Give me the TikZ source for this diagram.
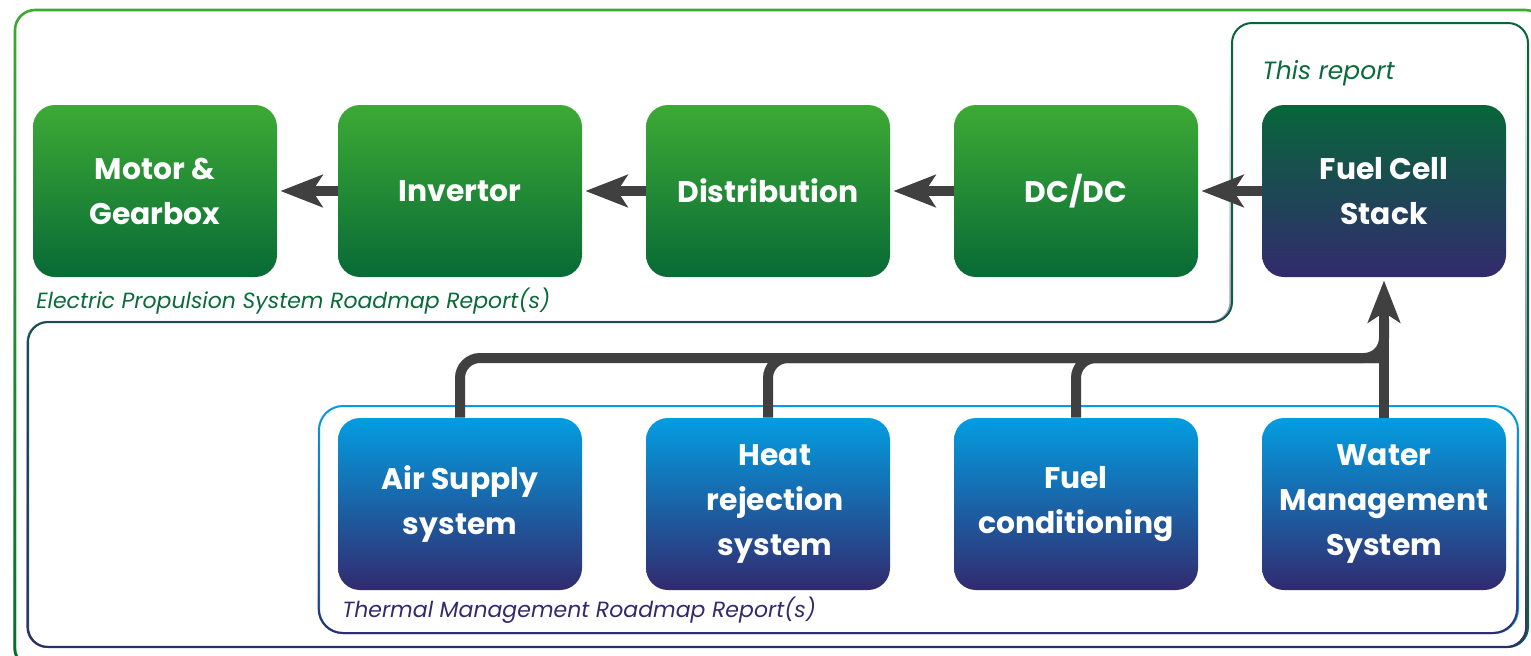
\documentclass[tikz,border=0pt]{standalone}
\usepackage{fontspec}
\setmainfont{Poppins}
\usetikzlibrary{arrows.meta,fadings,calc}

\definecolor{gtop}{HTML}{3DAA35}
\definecolor{gbot}{HTML}{086A36}
\definecolor{ftop}{HTML}{08663A}
\definecolor{navy}{HTML}{322A6E}
\definecolor{btop}{HTML}{039DE1}
\definecolor{darkgreen}{HTML}{0B6A3A}
\definecolor{arrowgrey}{HTML}{404040}

\tikzfading[name=upfade, top color=transparent!100, bottom color=transparent!0]

\tikzset{
  box/.style={rounded corners=11pt, minimum width=122pt, minimum height=86pt,
    inner sep=0pt, align=center, text=white,
    font=\fontsize{14.9}{22.5}\selectfont\bfseries},
  greenbox/.style={box, top color=gtop, bottom color=gbot},
  stackbox/.style={box, top color=ftop, bottom color=navy},
  bluebox/.style={box, top color=btop, bottom color=navy},
  flow/.style={draw=arrowgrey, line width=5pt,
    -{Stealth[length=21pt, width=16pt, inset=5pt]}, shorten >=1.5pt},
  busline/.style={draw=arrowgrey, line width=5pt, rounded corners=10pt},
  caption/.style={anchor=west, inner sep=0pt, font=\fontsize{11}{13}\selectfont\itshape}
}

\begin{document}
\begin{tikzpicture}[x=0.5pt, y=-0.5pt]
\useasboundingbox (0,0) rectangle (1531,655);

% outer frame
\draw[gtop, line width=1.3pt, rounded corners=10pt] (15,10) rectangle (1545,668);
\draw[gbot, line width=1.3pt, rounded corners=10pt, path fading=upfade] (15,10) rectangle (1545,668);

% frame around this report and the systems below it
\draw[ftop, line width=1pt, rounded corners=10pt]
  (28,647) -- (28,322) -- (1232,322) -- (1232,23) -- (1528,23) -- (1528,647) -- cycle;
\draw[navy, line width=1pt, rounded corners=10pt, path fading=upfade]
  (28,647) -- (28,322) -- (1232,322) -- (1232,23) -- (1528,23) -- (1528,647) -- cycle;

% thermal management frame
\draw[btop, line width=1pt, rounded corners=12pt] (319,406) rectangle (1518,633);
\draw[navy, line width=1pt, rounded corners=12pt, path fading=upfade] (319,406) rectangle (1518,633);

% top row
\node[greenbox] (motor) at (155,191) {Motor \&\\Gearbox};
\node[greenbox] (inv)   at (460,191) {Invertor};
\node[greenbox] (dist)  at (768,191) {Distribution};
\node[greenbox] (dcdc)  at (1076,191) {DC/DC};
\node[stackbox] (fc)    at (1384,191) {Fuel Cell\\Stack};

% bottom row
\node[bluebox] (air)   at (460,504) {Air Supply\\system};
\node[bluebox] (heat)  at (768,504) {\hspace*{7pt}Heat\\\hspace*{7pt}rejection\\\hspace*{7pt}system};
\node[bluebox] (fuel)  at (1076,504) {Fuel\\conditioning};
\node[bluebox] (water) at (1384,504) {Water\\Management\\System};

% captions
\node[caption, text=darkgreen, font=\fontsize{12.5}{14}\selectfont\itshape] (thisrep) at (1262,73) {This report};
\node[caption, text=darkgreen] (eplabel) at (36,301) {Electric Propulsion System Roadmap Report(s)};
\node[caption, text=navy] (tmlabel) at (342,610) {Thermal Management Roadmap Report(s)};

% power chain
\draw[flow] (inv.west) -- (motor.east);
\draw[flow] (dist.west) -- (inv.east);
\draw[flow] (dcdc.west) -- (dist.east);
\draw[flow] (fc.west) -- (dcdc.east);

% supply bus into the stack
\coordinate (bus) at (1384,358);
\coordinate (busup) at (1384,320);
\draw[busline] (air.north) |- (bus) -- (busup);
\draw[busline] (heat.north) |- (bus);
\draw[busline] (fuel.north) |- (bus);
\draw[flow] (water.north) -- (fc.south);
\end{tikzpicture}
\end{document}
